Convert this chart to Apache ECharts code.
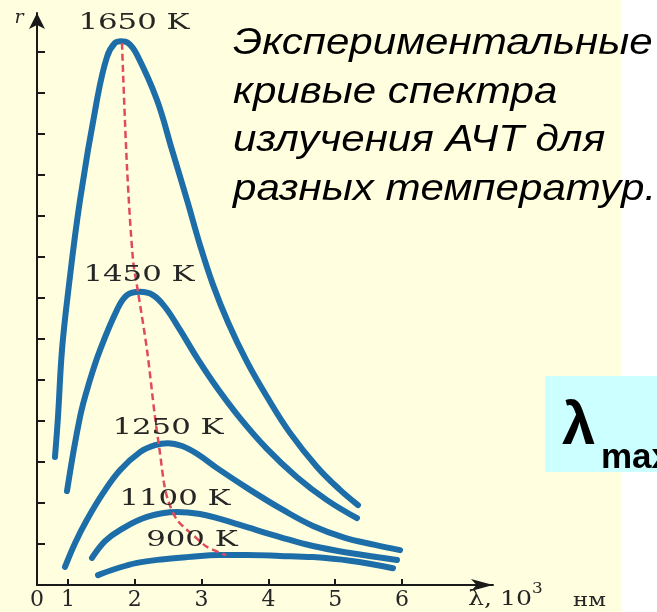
<!DOCTYPE html>
<html>
<head>
<meta charset="utf-8">
<script src="https://cdn.jsdelivr.net/npm/echarts@6/dist/echarts.min.js"></script>
<style>
html,body{margin:0;padding:0;background:#fff;}
#c{width:657px;height:612px;}
</style>
</head>
<body>
<div id="c"></div>
<script>
// ---- data (λ in 10^3 nm, r in arbitrary units = y tick steps) ----
const lambdaTicks = [1, 2, 3, 4, 5, 6];
const rTicks = [1, 2, 3, 4, 5, 6, 7, 8, 9, 10, 11, 12, 13];
const tempLabels = ['1650 K', '1450 K', '1250 K', '1100 K', '900 K'];

const curve1650 = [[0.805,3.12],[0.85,4.10],[0.91,5.73],[1.0,7.12],[1.18,9.39],[1.434,11.83],[1.584,12.88],[1.704,13.22],[1.793,13.26],[1.898,13.22],[2.033,12.93],[2.332,11.83],[2.557,10.61],[2.781,9.39],[2.976,8.29],[3.171,7.32],[3.395,6.41],[3.68,5.44],[3.979,4.59],[4.323,3.71],[4.728,2.88],[5.072,2.32],[5.341,1.95]];
const curve1450 = [[0.985,2.29],[1.18,4.10],[1.329,5.0],[1.479,5.73],[1.734,6.71],[1.883,7.07],[2.078,7.15],[2.272,7.07],[2.452,6.78],[2.677,6.22],[2.931,5.54],[3.231,4.81],[3.575,4.07],[3.979,3.32],[4.428,2.63],[4.877,2.07],[5.326,1.63]];
const curve1250 = [[0.955,0.44],[1.105,1.02],[1.284,1.59],[1.524,2.24],[1.778,2.80],[2.078,3.24],[2.302,3.41],[2.497,3.46],[2.707,3.39],[2.931,3.20],[3.231,2.85],[3.725,2.32],[4.219,1.83],[4.668,1.44],[5.147,1.15],[5.596,0.98],[5.97,0.85]];
const curve1100 = [[1.359,0.66],[1.554,1.07],[1.778,1.34],[2.183,1.66],[2.632,1.78],[2.976,1.73],[3.275,1.61],[3.68,1.41],[4.174,1.17],[4.668,0.95],[5.222,0.78],[5.925,0.61]];
const curve900 = [[1.449,0.24],[1.703,0.39],[2.033,0.54],[2.437,0.63],[2.781,0.68],[3.275,0.73],[3.68,0.73],[4.174,0.71],[4.668,0.68],[5.222,0.59],[5.865,0.41]];
const lambdaMaxLine = [[1.808,13.22],[1.883,10.20],[1.973,7.93],[2.048,7.15],[2.183,5.73],[2.302,4.10],[2.377,3.22],[2.437,2.49],[2.497,2.07],[2.632,1.59],[2.871,1.22],[3.081,0.93],[3.365,0.73]];

const titleLines = ['Экспериментальные', 'кривые спектра', 'излучения АЧТ для', 'разных температур.'];

// ---- layout / style ----
const X_MIN = 0.536, X_MAX = 7.362, Y_MAX = 13.95;
const curves = [curve1650, curve1450, curve1250, curve1100, curve900];
const labelOffsets = [[13,-18],[-1,-17],[0,-15],[-2,-13],[-28,-15]];
const BLUE = '#1d6ea8';
const SERIF = '"DejaVu Serif", "Liberation Serif", serif';
const AXIS = '#1a1a1a';
const TXT = '#262626';

const chart = echarts.init(document.getElementById('c'), null, {renderer: 'canvas'});

const series = curves.map((d, i) => ({
  type: 'line', name: tempLabels[i], data: d, smooth: 0.4, showSymbol: false, silent: true,
  lineStyle: {color: BLUE, width: 6, cap: 'round', join: 'round'}, z: 2
}));
series.push({
  type: 'line', name: 'λmax', data: lambdaMaxLine, smooth: 0.3, showSymbol: false, silent: true,
  lineStyle: {color: '#e04a5a', width: 2.5, type: [7, 4]}, z: 3
});

chart.setOption({
  animation: false,
  backgroundColor: '#ffffff',
  grid: {left: 37, right: 164, top: 13, bottom: 27, outerBoundsMode: 'none', containLabel: false},
  xAxis: {
    type: 'value', min: X_MIN, max: X_MAX,
    splitLine: {show: false},
    axisLine: {show: true, symbol: ['none', 'arrow'], symbolSize: [9, 22], lineStyle: {color: AXIS, width: 2}},
    axisTick: {show: true, inside: true, length: 6, customValues: lambdaTicks, lineStyle: {color: AXIS, width: 2}},
    axisLabel: {
      show: true, customValues: [X_MIN].concat(lambdaTicks), showMinLabel: true, showMaxLabel: true,
      formatter: v => (v === X_MIN ? '0' : String(v)),
      fontFamily: SERIF, fontSize: 22, color: TXT, margin: 4
    }
  },
  yAxis: {
    type: 'value', min: 0, max: Y_MAX,
    splitLine: {show: false},
    axisLine: {show: true, symbol: ['none', 'arrow'], symbolSize: [12, 16], lineStyle: {color: AXIS, width: 2}},
    axisTick: {show: true, inside: true, length: 8, customValues: rTicks, lineStyle: {color: AXIS, width: 2}},
    axisLabel: {show: false}
  },
  series: series
});

// ---- annotations ----
const g = [];
g.push({type: 'rect', z: -100, shape: {x: 0, y: 0, width: 621, height: 612}, style: {fill: '#FFFFE0'}, silent: true});
g.push({type: 'rect', z: -90, shape: {x: 545, y: 376, width: 130, height: 96}, style: {fill: '#CCFFFF'}, silent: true});
g.push({type: 'text', x: 562, y: 457, style: {text: 'λ', font: 'bold 60px "Liberation Sans", Arial, sans-serif', fill: '#000', textAlign: 'left', textVerticalAlign: 'bottom'}});
g.push({type: 'text', x: 601, y: 476, style: {text: 'max', font: 'bold 35px "Liberation Sans", Arial, sans-serif', fill: '#000', textAlign: 'left', textVerticalAlign: 'bottom'}});
titleLines.forEach((t, i) => {
  g.push({type: 'text', x: 233, y: 62 + i * 48.5, scaleX: 1.17, style: {text: t, font: 'italic 36px "Liberation Sans", Arial, sans-serif', fill: '#000', textAlign: 'left', textVerticalAlign: 'bottom'}});
});
g.push({type: 'text', x: 19, y: 18, style: {text: 'r', font: 'italic 19px ' + SERIF, fill: TXT, textAlign: 'center', textVerticalAlign: 'middle'}});
// axis name λ, 10^3 нм
g.push({type: 'text', x: 468, y: 600, scaleX: 1.2, style: {text: 'λ, 10', font: '21px ' + SERIF, fill: TXT, textAlign: 'left', textVerticalAlign: 'middle'}});
g.push({type: 'text', x: 532, y: 589, scaleX: 1.2, style: {text: '3', font: '14px ' + SERIF, fill: TXT, textAlign: 'left', textVerticalAlign: 'middle'}});
g.push({type: 'text', x: 573, y: 601, scaleX: 1.2, style: {text: 'нм', font: '19px ' + SERIF, fill: TXT, textAlign: 'left', textVerticalAlign: 'middle'}});

curves.forEach((d, i) => {
  let peak = d[0];
  d.forEach(p => { if (p[1] > peak[1]) peak = p; });
  const px = chart.convertToPixel({gridIndex: 0}, peak);
  g.push({type: 'text', x: px[0] + labelOffsets[i][0], y: px[1] + labelOffsets[i][1], scaleX: 1.4, z: 10,
    style: {text: tempLabels[i], font: '22px ' + SERIF, fill: TXT, textAlign: 'center', textVerticalAlign: 'middle'}});
});

chart.setOption({graphic: g});
</script>
</body>
</html>
